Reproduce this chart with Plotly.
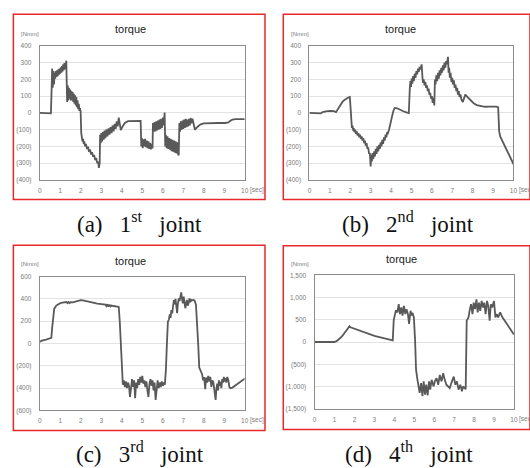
import plotly.graph_objects as go

# ---------------- data (time [sec], torque [Nmm]) ----------------
joint1 = [
    (0, 0), (0.3, -2), (0.54, -2), (0.57, 130), (0.6, 265), (0.63, 150), (0.66, 250), (0.69, 170),
    (0.72, 240), (0.75, 205), (0.78, 250), (0.81, 215), (0.84, 255), (0.87, 220), (0.9, 260), (0.93, 228),
    (0.96, 265), (0.99, 235), (1.02, 272), (1.05, 240), (1.08, 280), (1.11, 248), (1.14, 290), (1.17, 255),
    (1.2, 298), (1.23, 262), (1.26, 305), (1.29, 312),
    (1.31, 180), (1.33, 65), (1.36, 165), (1.39, 75), (1.42, 150), (1.45, 85), (1.48, 140), (1.51, 75),
    (1.54, 130), (1.57, 75), (1.6, 125), (1.63, 65), (1.66, 115), (1.69, 55), (1.72, 105), (1.75, 45),
    (1.78, 95), (1.81, 35), (1.84, 75), (1.87, 22), (1.9, 55), (1.93, 12), (1.96, 28), (1.99, 8),
    (2.02, -120), (2.05, -145), (2.08, -170), (2.11, -155), (2.14, -185), (2.17, -170), (2.2, -198),
    (2.25, -185), (2.3, -215), (2.35, -202), (2.4, -232), (2.45, -218), (2.5, -248), (2.55, -235),
    (2.6, -262), (2.65, -250), (2.7, -282), (2.75, -268), (2.8, -300), (2.85, -292), (2.88, -328), (2.92, -300),
    (2.94, -130), (2.97, -180), (3.0, -120), (3.04, -170), (3.08, -112), (3.12, -160), (3.16, -105),
    (3.2, -150), (3.25, -98), (3.3, -140), (3.35, -92), (3.4, -130), (3.45, -85), (3.5, -120), (3.55, -75),
    (3.6, -110), (3.65, -65), (3.7, -95), (3.75, -50), (3.8, -80), (3.85, -28), (3.9, -60), (3.95, -102),
    (4.05, -78), (4.15, -60), (4.3, -49), (4.5, -47), (4.7, -47), (4.92, -47),
    (4.95, -200), (4.98, -150), (5.02, -210), (5.06, -158), (5.1, -200), (5.14, -155), (5.18, -205),
    (5.22, -165), (5.26, -210), (5.3, -170), (5.34, -215), (5.38, -178), (5.42, -218), (5.46, -185), (5.5, -212),
    (5.52, -60), (5.56, -112), (5.6, -55), (5.64, -110), (5.68, -50), (5.72, -105), (5.76, -45), (5.8, -100),
    (5.84, -40), (5.88, -95), (5.92, -35), (5.96, -90), (6.0, -28), (6.04, -75), (6.09, 2),
    (6.12, -200), (6.15, -130), (6.19, -210), (6.23, -140), (6.27, -215), (6.31, -150), (6.35, -220),
    (6.39, -155), (6.43, -228), (6.47, -160), (6.51, -232), (6.55, -165), (6.59, -238), (6.63, -170),
    (6.67, -242), (6.71, -175), (6.75, -248), (6.78, -252),
    (6.81, -60), (6.84, -112), (6.88, -50), (6.92, -100), (6.96, -45), (7.0, -95), (7.04, -40), (7.08, -90),
    (7.12, -35), (7.16, -85), (7.2, -40), (7.24, -80), (7.28, -35), (7.32, -75), (7.36, -30), (7.4, -62),
    (7.45, -35), (7.5, -72), (7.57, -100),
    (7.7, -82), (7.85, -68), (8.0, -62), (8.3, -60), (8.7, -60), (9.05, -60), (9.2, -57), (9.3, -47),
    (9.4, -40), (9.55, -37), (10, -37),
]

joint2 = [
    (0, 0), (0.3, -2), (0.55, -3), (0.65, 5), (0.8, 10), (1.0, 12), (1.2, 11), (1.3, 5), (1.4, 25),
    (1.5, 45), (1.6, 63), (1.7, 76), (1.8, 86), (1.9, 92), (1.98, 95), (2.01, 40), (2.04, -60),
    (2.08, -90), (2.11, -75), (2.14, -105), (2.17, -90), (2.2, -115), (2.24, -100), (2.28, -125),
    (2.32, -110), (2.36, -135), (2.4, -120), (2.44, -145), (2.48, -130), (2.52, -155), (2.56, -140),
    (2.6, -165), (2.64, -150), (2.68, -180), (2.72, -165), (2.76, -195), (2.8, -180), (2.84, -215),
    (2.88, -205), (2.92, -245), (2.96, -240), (3.0, -320), (3.03, -250), (3.06, -290), (3.09, -240),
    (3.13, -275), (3.17, -230), (3.21, -260), (3.25, -215), (3.29, -245), (3.33, -200), (3.37, -230),
    (3.41, -190), (3.45, -215), (3.49, -175), (3.53, -200), (3.57, -160), (3.61, -185), (3.65, -145),
    (3.69, -165), (3.73, -130), (3.77, -145), (3.81, -115), (3.85, -120), (3.9, -100), (3.97, -70),
    (4.05, -20), (4.12, 15), (4.18, 30), (4.3, 28), (4.45, 18), (4.6, 10), (4.75, 4), (4.87, 0),
    (4.92, 150), (4.95, 190), (4.98, 155), (5.01, 205), (5.04, 175), (5.08, 220), (5.12, 190),
    (5.16, 235), (5.2, 210), (5.24, 250), (5.28, 230), (5.32, 265), (5.36, 245), (5.4, 275), (5.44, 260),
    (5.5, 290), (5.54, 210), (5.57, 180), (5.6, 200), (5.64, 165), (5.68, 185), (5.72, 150), (5.76, 165),
    (5.8, 130), (5.84, 145), (5.88, 110), (5.92, 120), (5.96, 85), (6.0, 100), (6.04, 60), (6.08, 90),
    (6.12, 45), (6.15, 200), (6.18, 170), (6.22, 225), (6.26, 190), (6.3, 240), (6.34, 205), (6.38, 255),
    (6.42, 225), (6.46, 270), (6.5, 240), (6.54, 285), (6.58, 255), (6.62, 300), (6.66, 270), (6.7, 310),
    (6.74, 290), (6.79, 335), (6.82, 240), (6.85, 270), (6.88, 210), (6.92, 240), (6.96, 185), (7.0, 210),
    (7.04, 170), (7.08, 195), (7.12, 150), (7.16, 170), (7.2, 130), (7.24, 150), (7.28, 110), (7.32, 130),
    (7.36, 95), (7.4, 110), (7.45, 80), (7.52, 65), (7.58, 95), (7.64, 110), (7.75, 95), (7.9, 75),
    (8.05, 58), (8.2, 47), (8.4, 40), (8.6, 37), (8.8, 38), (9.0, 40), (9.15, 38), (9.25, 35),
    (9.3, -110), (9.35, -140), (9.45, -165), (9.55, -195), (9.65, -225), (9.75, -250), (9.85, -275),
    (9.95, -295), (10, -305),
]

joint3 = [
    (0, 15), (0.1, 25), (0.3, 35), (0.5, 45), (0.56, 50), (0.6, 140), (0.65, 255), (0.7, 310), (0.8, 340),
    (0.9, 355), (1.0, 362), (1.1, 366), (1.2, 368), (1.3, 372), (1.35, 362), (1.4, 372), (1.45, 362),
    (1.5, 370), (1.6, 368), (1.7, 374), (1.8, 380), (1.9, 385), (2.0, 388), (2.1, 387), (2.2, 384),
    (2.35, 378), (2.5, 372), (2.65, 365), (2.8, 358), (3.0, 354), (3.1, 350), (3.2, 348), (3.25, 335),
    (3.3, 352), (3.35, 330), (3.4, 348), (3.45, 332), (3.5, 340), (3.6, 336), (3.7, 333), (3.8, 330),
    (3.85, 328), (3.9, 200), (3.95, -10), (4.0, -240), (4.05, -370),
    (4.1, -330), (4.15, -390), (4.2, -340), (4.25, -400), (4.3, -350), (4.35, -380), (4.4, -480),
    (4.45, -360), (4.5, -320), (4.55, -390), (4.6, -330), (4.65, -490), (4.7, -350), (4.75, -400),
    (4.8, -320), (4.85, -370), (4.9, -300), (4.95, -350), (5.0, -290), (5.05, -360), (5.1, -330),
    (5.15, -390), (5.2, -340), (5.25, -420), (5.3, -480), (5.35, -360), (5.4, -320), (5.45, -380),
    (5.5, -330), (5.55, -420), (5.6, -350), (5.65, -505), (5.7, -380), (5.75, -330), (5.8, -400),
    (5.85, -350), (5.9, -390), (5.95, -340), (6.0, -380), (6.05, -350), (6.1, -370),
    (6.15, -245), (6.2, -10), (6.25, 195), (6.3, 215), (6.34, 260), (6.38, 230), (6.42, 300), (6.46, 270),
    (6.5, 330), (6.54, 390), (6.58, 350), (6.62, 400), (6.66, 340), (6.7, 272), (6.74, 360), (6.78, 405),
    (6.82, 380), (6.86, 420), (6.9, 458), (6.94, 400), (6.98, 360), (7.02, 420), (7.06, 380), (7.1, 316),
    (7.14, 360), (7.18, 390), (7.22, 340), (7.26, 360), (7.3, 405), (7.34, 370), (7.38, 390), (7.42, 385),
    (7.48, 390), (7.55, 385), (7.62, 348), (7.68, 200), (7.73, -10), (7.78, -215), (7.85, -245),
    (7.92, -275), (7.97, -330), (8.02, -300), (8.07, -410), (8.12, -305), (8.17, -350), (8.22, -290),
    (8.27, -340), (8.32, -300), (8.37, -390), (8.42, -330), (8.47, -350), (8.52, -410), (8.58, -505),
    (8.62, -400), (8.66, -360), (8.7, -420), (8.74, -330), (8.78, -380), (8.82, -345), (8.86, -400),
    (8.9, -320), (8.94, -350), (8.98, -300), (9.02, -340), (9.06, -310), (9.1, -350), (9.15, -300),
    (9.2, -330), (9.25, -390), (9.3, -400), (9.4, -395), (10, -315),
]

joint4 = [
    (0, 0), (0.5, 0), (0.98, 0), (1.1, 20), (1.21, 52), (1.3, 95), (1.41, 148), (1.5, 205), (1.61, 273),
    (1.7, 330), (1.75, 355), (1.8, 332), (1.9, 315), (2.0, 295), (2.2, 260), (2.5, 214), (2.8, 172),
    (3.0, 140), (3.2, 118), (3.5, 89), (3.8, 59), (3.92, 37),
    (3.97, 500), (4.02, 628), (4.08, 716), (4.15, 665), (4.22, 850), (4.28, 628), (4.35, 776), (4.41, 591),
    (4.48, 812), (4.55, 628), (4.61, 738), (4.68, 628), (4.74, 406), (4.81, 702), (4.86, 600), (4.91, 660),
    (4.98, 554), (5.04, 37), (5.09, -628), (5.16, -850), (5.21, -960), (5.27, -1145), (5.34, -923),
    (5.41, -1218), (5.47, -886), (5.54, -1182), (5.6, -960), (5.67, -1200), (5.74, -886), (5.8, -1071),
    (5.87, -850), (5.97, -997), (6.03, -886), (6.12, -812), (6.2, -960), (6.28, -739), (6.37, -886),
    (6.45, -702), (6.53, -850), (6.61, -960), (6.7, -1000), (6.78, -1034), (6.86, -923), (6.98, -776),
    (7.06, -960), (7.14, -886), (7.22, -1071), (7.31, -960), (7.39, -1108), (7.45, -997), (7.52, -1034),
    (7.58, -1060), (7.63, 480), (7.68, 530), (7.72, 554), (7.79, 738), (7.85, 850), (7.92, 628),
    (7.98, 886), (8.05, 738), (8.12, 960), (8.18, 665), (8.25, 886), (8.31, 702), (8.38, 923), (8.45, 776),
    (8.51, 886), (8.58, 628), (8.65, 923), (8.71, 812), (8.78, 480), (8.84, 850), (8.91, 776), (9.0, 923),
    (9.07, 554), (9.14, 628), (9.21, 554), (9.31, 665), (9.42, 554), (9.59, 443), (9.75, 332),
    (9.92, 236), (10, 170),
]

x_ticks = [0, 1, 2, 3, 4, 5, 6, 7, 8, 9, 10]
y_ticks_small = [-400, -300, -200, -100, 0, 100, 200, 300, 400]
y_ticks_mid = [-600, -400, -200, 0, 200, 400, 600]
y_ticks_big = [-1500, -1000, -500, 0, 500, 1000, 1500]
titles = ["torque", "torque", "torque", "torque"]
unit_label = "[Nmm]"
time_label = "[sec]"
captions = [
    "(a)   1<sup>st</sup>   joint",
    "(b)   2<sup>nd</sup>   joint",
    "(c)   3<sup>rd</sup>   joint",
    "(d)   4<sup>th</sup>   joint",
]

# ---------------- layout helpers ----------------
W, H = 530, 468


def fx(px):
    return px / W


def fy(py):
    return 1 - py / H


def fmt(v):
    return f"({abs(v):,})" if v < 0 else f"{v:,}"


panels = [
    dict(data=joint1, plot=(38.3, 245.5, 42.7, 179.0), frame=(11.5, 266, 10.5, 199), yt=y_ticks_small,
         title=(130, 25), unit=(17, 30.5), cap=(139, 222)),
    dict(data=joint2, plot=(311.0, 517.3, 42.7, 179.0), frame=(284.5, 534, 10.5, 199), yt=y_ticks_small,
         title=(403, 25), unit=(290, 30.5), cap=(411, 222)),
    dict(data=joint3, plot=(38.3, 245.5, 277.3, 413.5), frame=(11.5, 266, 245.5, 434), yt=y_ticks_mid,
         title=(130, 261), unit=(17, 265), cap=(140, 456)),
    dict(data=joint4, plot=(316.2, 517.8, 276.0, 411.8), frame=(284.5, 534, 246, 433), yt=y_ticks_big,
         title=(404, 259), unit=(290.5, 264.5), cap=(412, 456)),
]

fig = go.Figure()
shapes = []
annotations = []
layout = {}
tick_font = dict(family="Liberation Sans, Arial, sans-serif", size=6.5, color="#7a7a7a")

for i, p in enumerate(panels):
    k = "" if i == 0 else str(i + 1)
    t = [d[0] for d in p["data"]]
    v = [d[1] for d in p["data"]]
    fig.add_trace(go.Scatter(x=t, y=v, mode="lines", xaxis="x" + k, yaxis="y" + k,
                             line=dict(color="#595959", width=1.8), showlegend=False, hoverinfo="skip"))
    x0, x1, y0, y1 = p["plot"]
    yt = p["yt"]
    layout["xaxis" + k] = dict(
        domain=[fx(x0), fx(x1)], anchor="y" + k, range=[0, 10], tickvals=x_ticks,
        ticktext=[str(x) for x in x_ticks], showgrid=False, zeroline=False,
        showline=True, mirror=True, linecolor="#8c8c8c", linewidth=1.2,
        ticks="", tickfont=tick_font, ticklabelstandoff=4, fixedrange=True,
    )
    layout["yaxis" + k] = dict(
        domain=[fy(y1), fy(y0)], anchor="x" + k, range=[yt[0], yt[-1]], tickvals=yt,
        ticktext=[fmt(y) for y in yt], showgrid=True, gridcolor="#e3e3e3", gridwidth=1,
        zeroline=False, showline=True, mirror=True, linecolor="#8c8c8c", linewidth=1.2,
        ticks="", tickfont=tick_font, ticklabelstandoff=6, fixedrange=True,
    )
    fx0, fx1, fy0, fy1 = p["frame"]
    shapes.append(dict(type="rect", xref="paper", yref="paper", x0=fx(fx0), x1=fx(fx1),
                       y0=fy(fy1), y1=fy(fy0), line=dict(color="#e8282b", width=1.5),
                       fillcolor="rgba(0,0,0,0)", layer="above"))
    annotations.append(dict(text=titles[i], xref="paper", yref="paper", x=fx(p["title"][0]),
                            y=fy(p["title"][1]), xanchor="center", yanchor="middle", showarrow=False,
                            font=dict(family="Liberation Sans, Arial, sans-serif", size=11, color="#1a1a1a")))
    annotations.append(dict(text=unit_label, xref="paper", yref="paper", x=fx(p["unit"][0]),
                            y=fy(p["unit"][1]), xanchor="left", yanchor="middle", showarrow=False,
                            font=dict(family="Liberation Sans, Arial, sans-serif", size=6, color="#7a7a7a")))
    annotations.append(dict(text=time_label, xref="paper", yref="paper", x=fx(x1 + 3.2),
                            y=fy(y1 + 10), xanchor="left", yanchor="middle", showarrow=False,
                            font=dict(family="Liberation Sans, Arial, sans-serif", size=6.5, color="#7a7a7a")))
    annotations.append(dict(text=captions[i], xref="paper", yref="paper", x=fx(p["cap"][0]),
                            y=fy(p["cap"][1]), xanchor="center", yanchor="middle", showarrow=False,
                            font=dict(family="Liberation Serif, Times New Roman, serif", size=23, color="#111111")))

fig.update_layout(
    width=W, height=H, margin=dict(l=0, r=0, t=0, b=0),
    paper_bgcolor="white", plot_bgcolor="white",
    shapes=shapes, annotations=annotations, **layout,
)

fig.write_html(
    "out.html",
    config={"displayModeBar": False},
    post_script="document.body.style.margin='0';document.body.style.padding='0';"
                "document.body.style.overflow='hidden';",
)
